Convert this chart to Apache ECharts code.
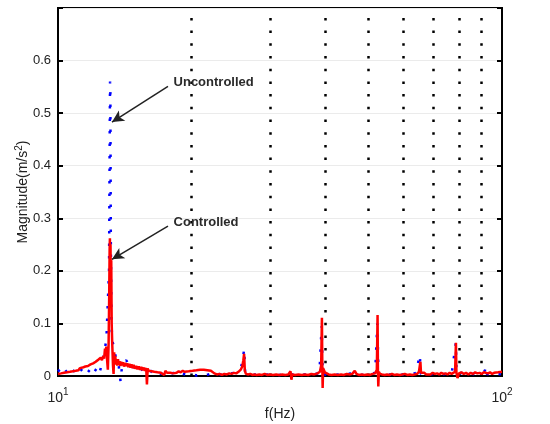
<!DOCTYPE html>
<html>
<head>
<meta charset="utf-8">
<script src="https://cdn.jsdelivr.net/npm/echarts@6/dist/echarts.min.js"></script>
<style>html,body{margin:0;padding:0;background:#fff}#c{width:550px;height:424px}</style>
</head>
<body>
<div id="c"></div>
<script>
// Uncontrolled (blue dotted)
const ucFreq = [10.00,10.15,10.30,10.45,10.60,10.75,10.90,11.05,11.20,11.35,11.50,11.65,11.80,11.95,12.10,12.25,12.40,12.55,12.70,12.85,12.95,13.03,13.08,13.10,13.12,13.15,13.19,13.24,13.32,13.42,13.55,13.70,13.83,13.95,14.10,14.25,14.45,14.65,14.85,15.05,15.30,15.55,15.80,16.10,16.40,16.70,17.00,17.40,17.80,18.20,18.60,19.00,19.50,20.00,20.50,21.00,21.50,22.00,22.50,23.00,23.60,24.20,24.80,25.40,25.90,26.15,26.26,26.40,27.00,28.00,29.00,30.00,31.50,33.00,34.50,36.00,37.50,38.80,39.25,39.45,40.50,42.00,43.50,45.00,46.50,48.00,50.00,51.80,52.40,52.70,54.00,56.00,58.00,60.00,62.00,64.00,65.30,65.60,67.00,69.00,71.00,73.00,75.00,77.00,78.70,79.00,81.00,83.00,85.00,87.00,89.00,91.50,92.00,92.40,94.00,96.00,98.00,100.00];
const ucMag = [0.012,0.006,0.015,0.008,0.013,0.005,0.012,0.007,0.015,0.009,0.014,0.006,0.012,0.018,0.009,0.016,0.006,0.022,0.045,0.068,0.070,0.200,0.480,0.560,0.540,0.260,0.110,0.068,0.060,0.045,0.030,0.020,-0.010,0.022,0.026,0.030,0.020,0.024,0.014,0.018,0.010,0.014,0.007,0.011,0.005,0.009,0.004,0.008,0.003,0.006,0.002,0.005,0.002,0.004,0.001,0.003,0.001,0.004,0.002,0.004,0.002,0.004,0.006,0.010,0.020,0.040,0.051,0.006,0.002,0.003,0.002,0.003,0.002,0.004,0.002,0.003,0.002,0.006,0.095,0.004,0.002,0.003,0.002,0.004,0.006,0.002,0.003,0.006,0.100,0.004,0.002,0.003,0.002,0.003,0.002,0.006,0.040,0.004,0.006,0.003,0.005,0.003,0.004,0.003,0.063,0.004,0.006,0.003,0.005,0.003,0.005,0.010,0.018,0.004,0.003,0.005,0.003,0.004];

// Controlled (red solid)
const cFreq = [10.00,10.08,10.16,10.24,10.32,10.40,10.48,10.56,10.64,10.72,10.80,10.88,10.96,11.04,11.12,11.20,11.28,11.36,11.44,11.52,11.60,11.68,11.76,11.84,11.92,12.00,12.08,12.16,12.24,12.32,12.40,12.48,12.56,12.64,12.70,12.76,12.80,12.85,12.90,12.95,13.00,13.04,13.07,13.09,13.11,13.13,13.15,13.18,13.21,13.25,13.30,13.34,13.38,13.42,13.46,13.50,13.55,13.60,13.65,13.70,13.76,13.82,13.88,13.94,14.00,14.08,14.16,14.24,14.32,14.40,14.48,14.56,14.64,14.72,14.80,14.90,15.00,15.10,15.20,15.30,15.40,15.50,15.60,15.70,15.80,15.86,15.92,16.00,16.12,16.24,16.36,16.48,16.60,16.75,16.90,17.05,17.20,17.35,17.45,17.60,17.75,17.90,18.05,18.20,18.35,18.50,18.70,18.90,19.10,19.30,19.50,19.70,19.90,20.10,20.30,20.50,20.70,20.90,21.10,21.30,21.50,21.70,21.90,22.10,22.30,22.50,22.80,23.10,23.40,23.70,24.00,24.30,24.60,24.90,25.20,25.50,25.80,26.00,26.15,26.25,26.35,26.50,26.80,27.10,27.40,27.70,28.00,28.40,28.80,29.20,29.60,30.00,30.50,31.00,31.50,32.00,32.50,33.00,33.40,33.55,33.70,34.20,34.80,35.40,36.00,36.60,37.20,37.80,38.40,38.90,39.15,39.30,39.38,39.45,39.55,39.70,39.90,40.20,40.70,41.30,42.00,42.70,43.40,44.00,44.70,45.40,46.00,46.60,47.00,47.60,48.30,49.00,49.70,50.40,51.10,51.80,52.25,52.45,52.55,52.65,52.80,53.10,53.70,54.40,55.10,55.80,56.50,57.20,58.00,58.80,59.60,60.40,61.20,62.00,62.80,63.60,64.40,65.00,65.50,65.70,66.10,66.80,67.50,68.20,69.00,69.80,70.60,71.40,72.20,73.00,73.80,74.60,75.40,76.20,77.00,77.80,78.40,78.75,78.95,79.40,80.00,81.00,82.00,83.00,84.00,85.00,86.00,87.00,88.00,89.00,90.00,91.00,91.90,93.00,94.00,95.00,96.00,97.00,98.00,99.00,100.00];
const cMag = [0.004,0.007,0.005,0.008,0.006,0.009,0.007,0.010,0.008,0.011,0.009,0.012,0.010,0.013,0.011,0.015,0.012,0.016,0.014,0.018,0.015,0.019,0.017,0.022,0.019,0.024,0.021,0.027,0.024,0.031,0.028,0.035,0.030,0.038,0.033,0.052,0.045,0.056,0.030,0.012,0.060,0.150,0.240,0.262,0.180,0.250,0.160,0.220,0.100,0.060,0.020,0.004,0.045,0.025,0.038,0.022,0.030,0.020,0.032,0.021,0.028,0.019,0.027,0.020,0.026,0.018,0.025,0.019,0.024,0.017,0.023,0.016,0.022,0.015,0.021,0.014,0.019,0.013,0.018,0.012,0.017,0.011,0.016,0.010,0.015,-0.016,0.014,0.010,0.013,0.009,0.012,0.008,0.011,0.007,0.010,0.006,0.009,0.002,0.010,0.006,0.009,0.006,0.008,0.005,0.008,0.006,0.009,0.007,0.010,0.008,0.011,0.009,0.012,0.010,0.012,0.011,0.013,0.012,0.013,0.012,0.013,0.011,0.012,0.010,0.008,0.005,0.003,0.004,0.002,0.004,0.003,0.005,0.004,0.006,0.005,0.008,0.012,0.018,0.030,0.042,0.010,0.004,0.003,0.004,0.002,0.003,0.002,0.003,0.002,0.004,0.002,0.003,0.002,0.003,0.002,0.003,0.002,0.003,0.009,-0.007,0.003,0.002,0.003,0.002,0.003,0.002,0.004,0.003,0.005,0.008,0.020,0.111,0.020,-0.023,0.015,0.012,0.007,0.004,0.003,0.002,0.003,0.002,0.003,0.002,0.004,0.003,0.004,0.010,0.004,0.002,0.003,0.002,0.003,0.002,0.004,0.005,0.012,0.116,0.010,-0.020,0.008,0.004,0.003,0.002,0.003,0.002,0.004,0.002,0.003,0.002,0.003,0.004,0.002,0.003,0.002,0.003,0.004,0.008,0.027,0.006,0.004,0.006,0.003,0.005,0.003,0.006,0.004,0.005,0.003,0.006,0.004,0.005,0.003,0.006,0.004,0.007,0.008,0.063,0.006,-0.004,0.005,0.007,0.004,0.006,0.003,0.006,0.004,0.007,0.005,0.006,0.004,0.007,0.009,0.005,0.007,0.004,0.006,0.005,0.007,0.005,0.008];

// Vertical dotted grid lines (log minor decades)
const gridFreqs = [20,30,40,50,60,70,80,90];
// Annotations
const annoLabels = ['Uncontrolled','Controlled'];

const FONT = 'Liberation Sans, Arial, Helvetica, sans-serif';
const chart = echarts.init(document.getElementById('c'), null, {renderer:'canvas'});

const ucData = ucFreq.map((f,i)=>[f, ucMag[i]]);
const cData = cFreq.map((f,i)=>[f, cMag[i]]);

const yAxisBase = {
  type:'value', min:0, max:0.7, interval:0.1,
  axisLine:{show:true, lineStyle:{color:'#000', width:2}},
  axisTick:{show:true, inside:true, length:5, lineStyle:{color:'#000', width:2}}
};

chart.setOption({
  animation:false,
  backgroundColor:'#fff',
  grid:{left:58, right:48, top:8, bottom:48, show:true, borderColor:'#000', borderWidth:2, backgroundColor:'transparent', containLabel:false, outerBoundsMode:'none'},
  xAxis:{
    type:'log', logBase:10, min:10, max:100,
    name:'f(Hz)', nameLocation:'middle', nameGap:31, nameMoveOverlap:false,
    nameTextStyle:{fontFamily:FONT, fontSize:14, color:'#222'},
    axisLine:{show:true, onZero:false, lineStyle:{color:'#000', width:2}},
    axisTick:{show:false},
    splitLine:{show:false},
    axisLabel:{
      margin:11, fontFamily:FONT, fontSize:14, color:'#222',
      formatter:function(v){ const e=Math.round(Math.log10(v)); return '{b|10}{s|'+e+'}'; },
      rich:{
        b:{fontFamily:FONT, fontSize:14, color:'#222', verticalAlign:'bottom', lineHeight:18},
        s:{fontFamily:FONT, fontSize:10, color:'#222', verticalAlign:'top', lineHeight:18, padding:[0,0,0,0]}
      }
    }
  },
  yAxis:[
    Object.assign({}, yAxisBase, {
      position:'left',
      name:'Magnitude(m/s{s|2})', nameLocation:'middle', nameGap:26, nameRotate:90, nameMoveOverlap:false,
      nameTextStyle:{fontFamily:FONT, fontSize:14, color:'#222',
        rich:{s:{fontFamily:FONT, fontSize:10, color:'#222', verticalAlign:'top', lineHeight:18}}},
      axisLabel:{fontFamily:FONT, fontSize:13, color:'#222', margin:7,
        formatter:function(v){ return v > 0.65 ? '' : (Math.round(v*10)/10).toString(); }},
      splitLine:{show:true, lineStyle:{color:'#ebebeb', width:1}}
    }),
    Object.assign({}, yAxisBase, {
      position:'right',
      axisLabel:{show:false},
      splitLine:{show:false}
    })
  ],
  series:[
    {
      name:'Uncontrolled', type:'line', data:ucData, showSymbol:false, symbol:'none',
      clip:false, z:2,
      lineStyle:{color:'#0000ff', width:2.5, type:[2.5,10]},
      markLine:{
        silent:true, symbol:['none','none'], z:1,
        label:{show:false},
        lineStyle:{color:'#000', width:2.5, type:[2.5,10.2]},
        data: gridFreqs.map(f=>({xAxis:f}))
      }
    },
    {
      name:'Controlled', type:'line', data:cData, showSymbol:false, symbol:'none',
      clip:false, z:3,
      lineStyle:{color:'#ff0000', width:2.5},
      markLine:{
        silent:true, symbol:['none','arrow'], symbolSize:[9,12],
        label:{show:false},
        lineStyle:{color:'#222', width:1.5, type:'solid'},
        data:[
          [{coord:[17.69,0.551]},{coord:[13.23,0.483]}],
          [{coord:[17.69,0.285]},{coord:[13.23,0.222]}]
        ]
      },
      markPoint:{
        silent:true, symbol:'circle', symbolSize:1,
        itemStyle:{color:'rgba(0,0,0,0)'},
        label:{show:true, position:'right', distance:0, fontFamily:FONT, fontSize:13, fontWeight:'bold', color:'#2a2a2a'},
        data:[
          {coord:[18.16,0.559], value:annoLabels[0], label:{formatter:annoLabels[0]}},
          {coord:[18.16,0.293], value:annoLabels[1], label:{formatter:annoLabels[1]}}
        ]
      }
    }
  ]
});
</script>
</body>
</html>
